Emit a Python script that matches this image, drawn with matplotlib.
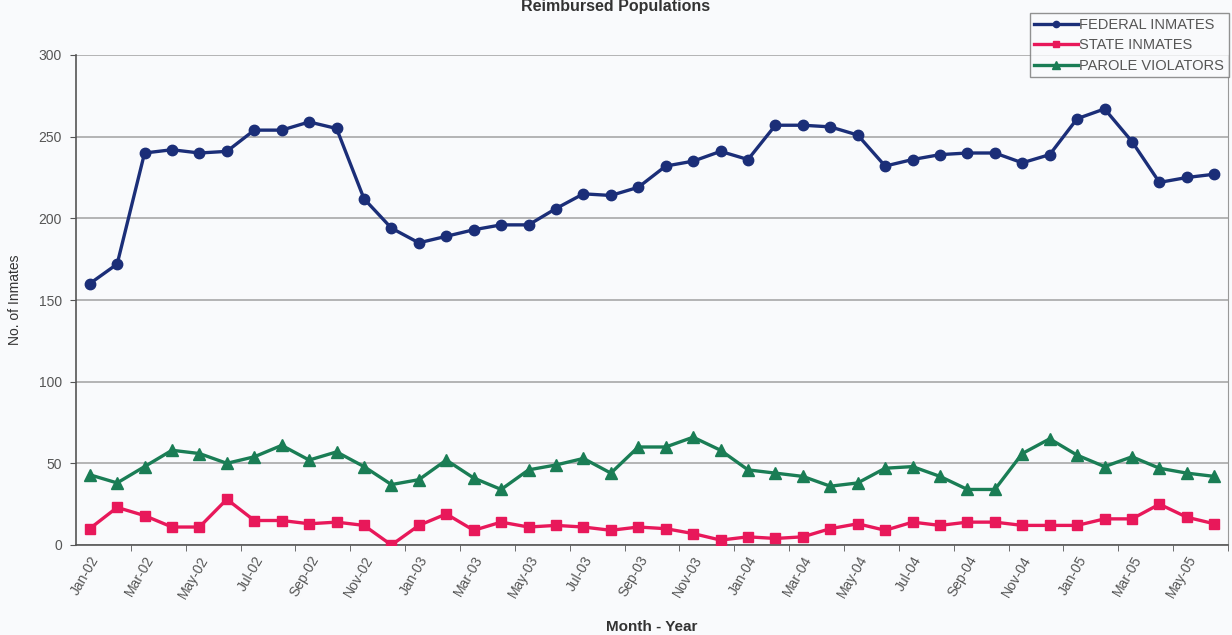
import matplotlib.pyplot as plt

plt.rcParams['font.family'] = ['Liberation Sans', 'DejaVu Sans']

# monthly counts, Jan-02 .. Jun-05
months = ['Jan-02', 'Feb-02', 'Mar-02', 'Apr-02', 'May-02', 'Jun-02', 'Jul-02', 'Aug-02',
          'Sep-02', 'Oct-02', 'Nov-02', 'Dec-02', 'Jan-03', 'Feb-03', 'Mar-03', 'Apr-03',
          'May-03', 'Jun-03', 'Jul-03', 'Aug-03', 'Sep-03', 'Oct-03', 'Nov-03', 'Dec-03',
          'Jan-04', 'Feb-04', 'Mar-04', 'Apr-04', 'May-04', 'Jun-04', 'Jul-04', 'Aug-04',
          'Sep-04', 'Oct-04', 'Nov-04', 'Dec-04', 'Jan-05', 'Feb-05', 'Mar-05', 'Apr-05',
          'May-05', 'Jun-05']
federal = [160, 172, 240, 242, 240, 241, 254, 254, 259, 255, 212, 194, 185,
           189, 193, 196, 196, 206, 215, 214, 219, 232, 235, 241, 236, 257, 257,
           256, 251, 232, 236, 239, 240, 240, 234, 239, 261, 267, 247, 222, 225, 227]
state = [10, 23, 18, 11, 11, 28, 15, 15, 13, 14, 12, 0, 12,
         19, 9, 14, 11, 12, 11, 9, 11, 10, 7, 3, 5, 4, 5,
         10, 13, 9, 14, 12, 14, 14, 12, 12, 12, 16, 16, 25, 17, 13]
parole = [43, 38, 48, 58, 56, 50, 54, 61, 52, 57, 48, 37, 40,
          52, 41, 34, 46, 49, 53, 44, 60, 60, 66, 58, 46, 44, 42,
          36, 38, 47, 48, 42, 34, 34, 56, 65, 55, 48, 54, 47, 44, 42]

x = list(range(len(months)))

fig = plt.figure(figsize=(12.32, 6.35), dpi=100, facecolor='#f9fafc')
ax = fig.add_axes([76 / 1232, 1 - 545 / 635, (1228 - 76) / 1232, (545 - 55) / 635])
ax.set_facecolor('#f9fafc')

ax.plot(x, federal, color='#1b2e78', lw=2.4, marker='o', ms=7.5, label='FEDERAL INMATES', zorder=3)
ax.plot(x, state, color='#e8185a', lw=2.4, marker='s', ms=7.5, label='STATE INMATES', zorder=3)
ax.plot(x, parole, color='#1a7d55', lw=2.4, marker='^', ms=9, label='PAROLE VIOLATORS', zorder=3)

ax.set_xlim(-0.5, len(months) - 0.5)
ax.set_ylim(0, 300)
ax.set_yticks(range(0, 301, 50))
ax.yaxis.grid(True, color='#a8a8a8', lw=1.2)
ax.set_axisbelow(True)

ax.set_xticks(x[::2])
ax.set_xticklabels(months[::2], rotation=60, ha='right', rotation_mode='anchor', color='#555555')
ax.set_xticks([i + 1.5 for i in range(0, len(months) - 1, 2)], minor=True)
ax.tick_params(axis='x', which='major', length=0, labelsize=10, pad=6)
ax.tick_params(axis='x', which='minor', length=4, color='#555555')
ax.tick_params(axis='y', labelsize=10, length=4, colors='#555555', pad=6)

for s in ['left', 'bottom']:
    ax.spines[s].set_color('#555555')
    ax.spines[s].set_linewidth(1.2)
ax.spines['top'].set_visible(False)
ax.spines['right'].set_color('#999999')

ax.set_ylabel('No. of Inmates', fontsize=10, color='#333333', labelpad=12)
ax.set_xlabel('Month - Year', fontsize=11, fontweight='bold', color='#333333', labelpad=14)
fig.text(0.5, 1 - 7 / 635, 'Reimbursed Populations', ha='center', va='center',
         fontsize=11.5, fontweight='bold', color='#333333')

leg = ax.legend(loc='upper right', bbox_to_anchor=(1236 / 1232, 1 - 6 / 635),
                bbox_transform=fig.transFigure, fontsize=10.5, frameon=True, fancybox=False,
                markerscale=0.6, handlelength=3, handletextpad=0.1, borderpad=0.3,
                labelspacing=0.45, labelcolor='#555555')
leg.get_frame().set_edgecolor('#777777')
leg.get_frame().set_facecolor('#f9fafc')

fig.savefig('out.png', dpi=100, facecolor=fig.get_facecolor())
